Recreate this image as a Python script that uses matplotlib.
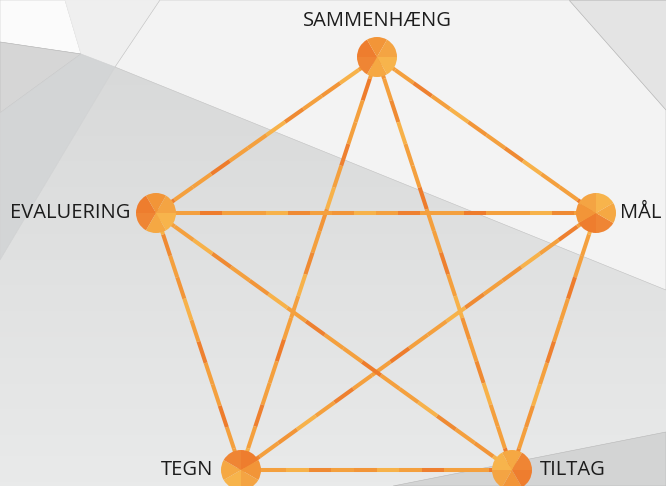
import numpy as np
import matplotlib.pyplot as plt
from matplotlib.patches import Polygon, Wedge
from matplotlib.colors import LinearSegmentedColormap

# nodes of the diagram (pixel positions of the original picture)
node_names = ['SAMMENHÆNG', 'MÅL', 'TILTAG', 'TEGN', 'EVALUERING']
node_x = [377, 596, 512, 241, 156]
node_y = [57, 213, 470, 470, 213]

# every node is tied to every other node
edges = [(0, 1), (0, 2), (0, 3), (0, 4), (1, 2), (1, 3), (1, 4), (2, 3), (2, 4), (3, 4)]

# label placement: (dx, dy, ha, va) relative to the node
label_pos = [(0, -36, 'center', 'center'), (24, 0, 'left', 'center'),
             (28, 0, 'left', 'center'), (-28, 0, 'right', 'center'),
             (-26, 0, 'right', 'center')]

W, H = 666, 486
fig = plt.figure(figsize=(W / 100, H / 100), dpi=100)
ax = fig.add_axes([0, 0, 1, 1])
ax.set_xlim(0, W)
ax.set_ylim(H, 0)
ax.axis('off')

# ---- low-poly grey background ----
ax.add_patch(Polygon([(0, 0), (W, 0), (W, H), (0, H)], color='#e2e3e3', zorder=0))

lower = Polygon([(115, 67), (W, 290), (W, 432), (393, H), (0, H), (0, 260)],
                closed=True, facecolor='none', edgecolor='none')
ax.add_patch(lower)
grad = np.linspace(0, 1, 100).reshape(-1, 1)
cmap = LinearSegmentedColormap.from_list('g', ['#d8d9d9', '#e9eaea'])
im = ax.imshow(grad, extent=(0, W, H, 60), cmap=cmap, origin='upper',
               aspect='auto', zorder=0.5)
im.set_clip_path(lower)

polys = [
    ([(0, 0), (65, 0), (81, 54), (0, 42)], '#fbfbfb', '#c8c8c8'),
    ([(65, 0), (160, 0), (115, 67), (81, 54)], '#efefef', '#ececec'),
    ([(160, 0), (569, 0), (W, 110), (W, 290), (115, 67)], '#f3f3f3', '#c0c0c0'),
    ([(569, 0), (W, 0), (W, 110)], '#e4e4e4', '#b8b8b8'),
    ([(0, 42), (81, 54), (0, 113)], '#d6d6d6', '#b8b8b8'),
    ([(0, 113), (81, 54), (115, 67), (0, 260)], '#d3d5d6', '#d0d1d2'),
    ([(393, H), (W, 432), (W, H)], '#d3d4d4', '#b8b8b8'),
]
for pts, col, ec in polys:
    ax.add_patch(Polygon(pts, closed=True, facecolor=col, edgecolor=ec,
                         linewidth=0.4, zorder=1))

# ---- edges, drawn as short pieces in slightly different oranges ----
shade = ['#f4a03e', '#f4a03e', '#ee8030', '#f4a03e', '#f7b24a', '#f29538',
         '#f4a03e', '#ef8a33', '#f7b24a', '#f4a03e', '#f4a03e', '#ee7c2c']
for k, (a, b) in enumerate(edges):
    x0, y0, x1, y1 = node_x[a], node_y[a], node_x[b], node_y[b]
    n = max(int(np.hypot(x1 - x0, y1 - y0) / 22), 2)
    t = np.linspace(0, 1, n + 1)
    for i in range(n):
        c = shade[(i + 5 * k) % len(shade)]
        ax.plot([x0 + (x1 - x0) * t[i], x0 + (x1 - x0) * t[i + 1]],
                [y0 + (y1 - y0) * t[i], y0 + (y1 - y0) * t[i + 1]],
                color=c, lw=2.9, solid_capstyle='butt', zorder=3)

# ---- faceted nodes ----
facets = ['#f7b44c', '#f5a843', '#ef8534', '#ee7d2e', '#f29538', '#f4a443']
for j, (x, y) in enumerate(zip(node_x, node_y)):
    for i in range(6):
        ax.add_patch(Wedge((x, y), 20, 60 * i + 30 * j, 60 * (i + 1) + 30 * j,
                           facecolor=facets[(i + 2 * j) % 6], edgecolor='none', zorder=4))
    dx, dy, ha, va = label_pos[j]
    ax.text(x + dx, y + dy, node_names[j], ha=ha, va=va, fontsize=14.5,
            family=['Open Sans', 'DejaVu Sans'], color='#1c1c1c', zorder=5)

fig.savefig('out.png', dpi=100)
